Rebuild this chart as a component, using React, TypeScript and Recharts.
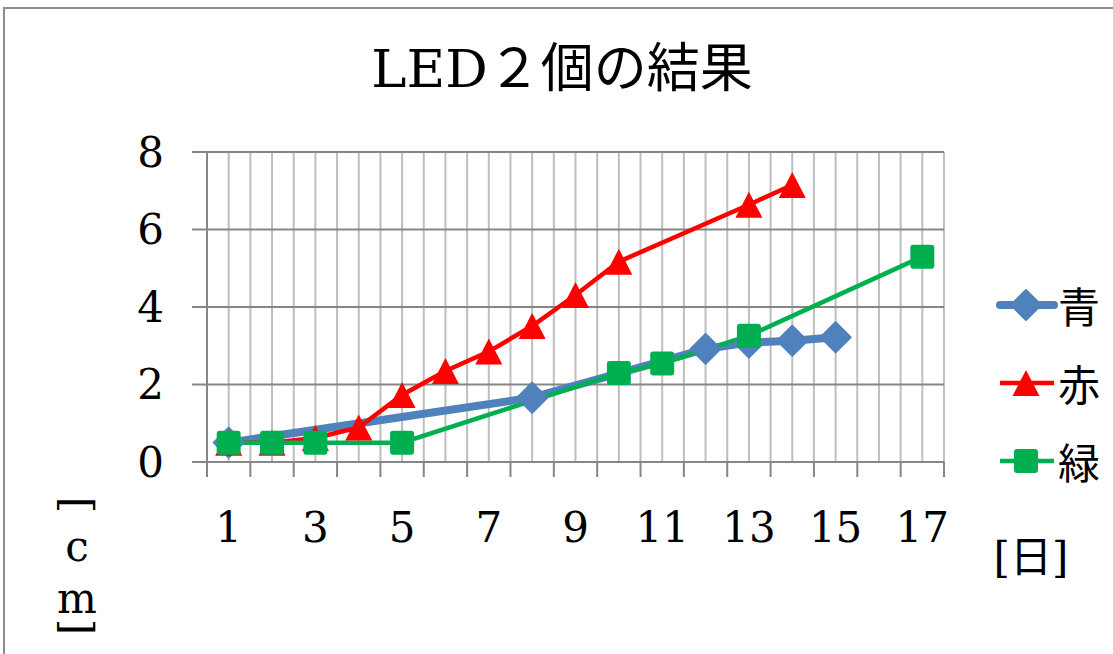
import React from 'react';
import { LineChart, Line, XAxis, YAxis, CartesianGrid, Legend } from 'recharts';

const days = [1, 2, 3, 4, 5, 6, 7, 8, 9, 10, 11, 12, 13, 14, 15, 16, 17];
const xTickLabels = [1, 3, 5, 7, 9, 11, 13, 15, 17];
const yTicks = [0, 2, 4, 6, 8];
const blueValues = [0.5, null, null, null, null, null, null, 1.66, null, null, null, 2.92, 3.08, 3.13, 3.22, null, null];
const redValues = [0.5, 0.5, 0.62, 0.89, 1.73, 2.35, 2.85, 3.51, 4.31, 5.17, null, null, 6.64, 7.15, null, null, null];
const greenValues = [0.5, 0.5, 0.5, null, 0.5, null, null, null, null, 2.3, 2.54, null, 3.26, null, null, null, 5.3];
const seriesNames = ['青', '赤', '緑'];
const titleText = 'LED２個の結果';
const xAxisTitle = '[日]';

const BLUE = '#4F81BD';
const RED = '#FF0000';
const GREEN = '#00B050';
const GRID_DARK = '#868686';
const GRID_LIGHT = '#BEBEBE';
const SERIF = "'DejaVu Serif', 'Noto Sans CJK JP', serif";
const CJK = "'Noto Sans CJK JP', sans-serif";

const data = days.map((d, i) => ({
  day: d,
  blue: blueValues[i],
  red: redValues[i],
  green: greenValues[i],
}));

const xTicks: number[] = days.flatMap((d) => [d - 0.5, d]).concat([days[days.length - 1] + 0.5]);

const diamondShape = (cx: number, cy: number, r: number) => (
  <path
    d={`M${cx},${cy - r}L${cx + r},${cy}L${cx},${cy + r}L${cx - r},${cy}Z`}
    fill={BLUE}
    stroke={BLUE}
    strokeWidth={2}
    strokeLinejoin="round"
  />
);
const triangleShape = (cx: number, cy: number) => (
  <path
    d={`M${cx},${cy - 13}L${cx + 13.5},${cy + 13}L${cx - 13.5},${cy + 13}Z`}
    fill={RED}
  />
);
const squareShape = (cx: number, cy: number) => (
  <rect x={cx - 12} y={cy - 12} width={24} height={24} rx={3} ry={3} fill={GREEN} />
);

const makeDot = (kind: string) => (props: any) => {
  const { cx, cy, value, index } = props;
  if (value == null || cx == null || cy == null || isNaN(cy)) return <g key={`e-${kind}-${index}`} />;
  return (
    <g key={`d-${kind}-${index}`}>
      {kind === 'blue' ? diamondShape(cx, cy, 15) : kind === 'red' ? triangleShape(cx, cy) : squareShape(cx, cy)}
    </g>
  );
};

const series = [
  { key: 'blue', name: seriesNames[0], color: BLUE, width: 8 },
  { key: 'red', name: seriesNames[1], color: RED, width: 4.5 },
  { key: 'green', name: seriesNames[2], color: GREEN, width: 4.5 },
];

const XTick = (props: any) => {
  const { x, y, payload } = props;
  const v = payload.value;
  if (!Number.isInteger(v)) {
    return <line x1={x} y1={y} x2={x} y2={y + 15} stroke={GRID_DARK} strokeWidth={2} />;
  }
  if (!xTickLabels.includes(v)) return <g />;
  return (
    <text x={x} y={y + 80} textAnchor="middle" fontFamily={SERIF} fontSize={42} fill="#000">
      {v}
    </text>
  );
};

const renderLegend = () => (
  <div style={{ display: 'flex', flexDirection: 'column' }}>
    {series.map((s) => (
      <div key={s.key} style={{ height: 78, display: 'flex', alignItems: 'center' }}>
        <svg width={62} height={40} style={{ display: 'block' }}>
          <line x1={4} y1={20} x2={58} y2={20} stroke={s.color} strokeWidth={s.width} strokeLinecap={s.key === 'blue' ? 'round' : 'butt'} />
          {s.key === 'blue' ? diamondShape(30, 20, 15) : s.key === 'red' ? triangleShape(30, 20) : squareShape(30, 20)}
        </svg>
        <span style={{ fontFamily: CJK, fontSize: 42, lineHeight: '42px', marginLeft: 0, color: '#000' }}>{s.name}</span>
      </div>
    ))}
  </div>
);

const XAxisTitle = (props: any) => {
  const vb = props.viewBox || { x: 207, y: 462, width: 737 };
  return (
    <text x={vb.x + vb.width + 87} y={vb.y + 110} textAnchor="middle" fontFamily={SERIF} fontSize={42} fill="#000">
      {xAxisTitle}
    </text>
  );
};

const YAxisTitle = () => {
  const cx = 77;
  return (
    <g fontFamily={SERIF} fontSize={42} fill="#000">
      <text x={cx} y={505} textAnchor="middle" dominantBaseline="central" transform={`rotate(90, ${cx}, 505)`}>[</text>
      <text x={cx} y={561} textAnchor="middle">c</text>
      <text x={cx} y={613} textAnchor="middle">m</text>
      <text x={cx} y={627} textAnchor="middle" dominantBaseline="central" transform={`rotate(90, ${cx}, 627)`}>]</text>
    </g>
  );
};

export default function App() {
  return (
    <div style={{ position: 'fixed', left: 0, top: 0, width: 1113, height: 654, overflow: 'hidden', background: '#fff' }}>
      <div
        style={{
          position: 'absolute',
          left: 3,
          top: 7,
          width: 1300,
          height: 900,
          border: '2px solid #8c8c8c',
          boxSizing: 'border-box',
        }}
      />
      <div
        style={{
          position: 'absolute',
          left: 0,
          top: 42,
          width: 1124,
          textAlign: 'center',
          fontFamily: SERIF,
          fontSize: 53,
          lineHeight: '53px',
          color: '#000',
          whiteSpace: 'nowrap',
        }}
      >
        {titleText}
      </div>
      <div style={{ position: 'absolute', left: 0, top: 0 }}>
        <LineChart width={1113} height={654} data={data} margin={{ top: 152, right: 169, bottom: 132, left: 0 }}>
          <CartesianGrid horizontal={false} vertical={true} stroke={GRID_LIGHT} strokeWidth={2} />
          <CartesianGrid horizontal={true} vertical={false} stroke={GRID_DARK} strokeWidth={2} />
          <XAxis
            dataKey="day"
            type="number"
            domain={[days[0] - 0.5, days[days.length - 1] + 0.5]}
            ticks={xTicks}
            interval={0}
            height={60}
            tickLine={false}
            tickSize={0}
            tickMargin={0}
            axisLine={{ stroke: GRID_DARK, strokeWidth: 2 }}
            tick={<XTick />}
            label={{ content: <XAxisTitle /> } as any}
          />
          <YAxis
            type="number"
            domain={[0, 8]}
            ticks={yTicks}
            interval={0}
            width={207}
            tickSize={15}
            tickMargin={28}
            tickLine={{ stroke: GRID_DARK, strokeWidth: 2 }}
            axisLine={{ stroke: GRID_DARK, strokeWidth: 2 }}
            tick={{ fontFamily: SERIF, fontSize: 42, fill: '#000' }}
            label={{ content: <YAxisTitle /> } as any}
          />
          <Legend
            layout="vertical"
            align="center"
            verticalAlign="middle"
            content={renderLegend}
            wrapperStyle={{ left: 996, top: 266, width: 117, height: 'auto', margin: 0 }}
          />
          {series.map((s) => (
            <Line
              key={s.key}
              type="linear"
              dataKey={s.key}
              name={s.name}
              stroke={s.color}
              strokeWidth={s.width}
              connectNulls
              dot={makeDot(s.key)}
              activeDot={false}
              isAnimationActive={false}
            />
          ))}
        </LineChart>
      </div>
    </div>
  );
}
